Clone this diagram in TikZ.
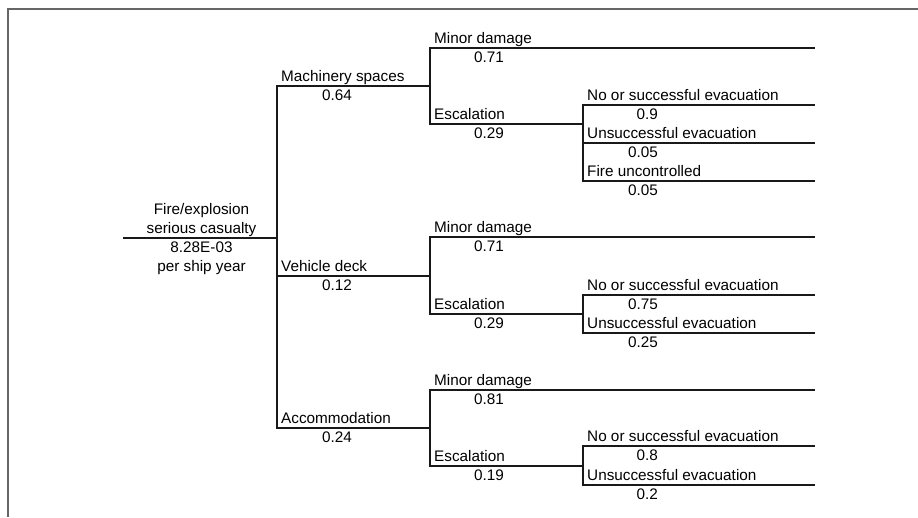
\documentclass[tikz,border=0pt]{standalone}
\usepackage{fontspec}
\setmainfont{Liberation Sans}
\begin{document}
\begin{tikzpicture}[x=1pt,y=-1pt,
  tree/.style={line width=2pt, draw=black!90, line cap=rect},
  frameline/.style={line width=2pt, draw=black!60},
  lab/.style={anchor=base west, inner sep=0pt, text=black},
  prob/.style={anchor=base east, inner sep=0pt, text=black},
  rootlab/.style={anchor=base, inner sep=0pt, text=black},
  every node/.append style={font=\fontsize{15.3}{18}\selectfont}]
\useasboundingbox (0,0) rectangle (918,517);
% frame
\coordinate (FL) at (7.5,517);
\coordinate (FC) at (7.5,8.5);
\coordinate (FR) at (918,8.5);
\draw[frameline] (FL) -- (FC) -- (FR);
% root
\coordinate (R0) at (124,238);
\coordinate (J0) at (277,238);
\draw[tree] (R0) -- (J0);
\node[rootlab] (rt1) at (201.5,214) {Fire/explosion};
\node[rootlab] (rt2) at (201.5,233) {serious casualty};
\node[rootlab] (rt3) at (201.5,252.5) {8.28E-03};
\node[rootlab] (rt4) at (201.5,271) {per ship year};
% level 1
\coordinate (MS) at (277,86);  \coordinate (MSe) at (430,86);
\coordinate (VD) at (277,276); \coordinate (VDe) at (430,276);
\coordinate (AC) at (277,428); \coordinate (ACe) at (430,428);
\draw[tree] (MS) -- (AC);
\draw[tree] (MS) -- (MSe);
\draw[tree] (VD) -- (VDe);
\draw[tree] (AC) -- (ACe);
\node[lab] (msl) at (281,81.5) {Machinery spaces};
\node[prob] (msp) at (352,100.5) {0.64};
\node[lab] (vdl) at (281,271.5) {Vehicle deck};
\node[prob] (vdp) at (352,290.5) {0.12};
\node[lab] (acl) at (281,423.5) {Accommodation};
\node[prob] (acp) at (352,442.5) {0.24};
% level 2 - machinery
\coordinate (M1) at (430,48);  \coordinate (M1e) at (814,48);
\coordinate (M2) at (430,124); \coordinate (M2e) at (583,124);
\draw[tree] (M1) -- (M2);
\draw[tree] (M1) -- (M1e);
\draw[tree] (M2) -- (M2e);
\node[lab] at (434,43.5) {Minor damage};
\node[prob] at (504,62.5) {0.71};
\node[lab] at (434,119.5) {Escalation};
\node[prob] at (504,138.5) {0.29};
% level 2 - vehicle
\coordinate (V1) at (430,237);  \coordinate (V1e) at (814,237);
\coordinate (V2) at (430,314);  \coordinate (V2e) at (583,314);
\draw[tree] (V1) -- (V2);
\draw[tree] (V1) -- (V1e);
\draw[tree] (V2) -- (V2e);
\node[lab] at (434,232.5) {Minor damage};
\node[prob] at (504,251.5) {0.71};
\node[lab] at (434,309.5) {Escalation};
\node[prob] at (504,328.5) {0.29};
% level 2 - accommodation
\coordinate (A1) at (430,390);  \coordinate (A1e) at (814,390);
\coordinate (A2) at (430,466);  \coordinate (A2e) at (583,466);
\draw[tree] (A1) -- (A2);
\draw[tree] (A1) -- (A1e);
\draw[tree] (A2) -- (A2e);
\node[lab] at (434,385.5) {Minor damage};
\node[prob] at (504,404.5) {0.81};
\node[lab] at (434,461.5) {Escalation};
\node[prob] at (504,480.5) {0.19};
% level 3 - machinery escalation
\coordinate (ME1) at (583,105); \coordinate (ME1e) at (814,105);
\coordinate (ME2) at (583,143); \coordinate (ME2e) at (814,143);
\coordinate (ME3) at (583,181); \coordinate (ME3e) at (814,181);
\draw[tree] (ME1) -- (ME3);
\draw[tree] (ME1) -- (ME1e);
\draw[tree] (ME2) -- (ME2e);
\draw[tree] (ME3) -- (ME3e);
\node[lab] at (587,100.5) {No or successful evacuation};
\node[prob] at (658,119.5) {0.9};
\node[lab] at (587,138.5) {Unsuccessful evacuation};
\node[prob] at (658,157.5) {0.05};
\node[lab] at (587,176.5) {Fire uncontrolled};
\node[prob] at (658,195.5) {0.05};
% level 3 - vehicle escalation
\coordinate (VE1) at (583,295); \coordinate (VE1e) at (814,295);
\coordinate (VE2) at (583,333); \coordinate (VE2e) at (814,333);
\draw[tree] (VE1) -- (VE2);
\draw[tree] (VE1) -- (VE1e);
\draw[tree] (VE2) -- (VE2e);
\node[lab] at (587,290.5) {No or successful evacuation};
\node[prob] at (658,309.5) {0.75};
\node[lab] at (587,328.5) {Unsuccessful evacuation};
\node[prob] at (658,347.5) {0.25};
% level 3 - accommodation escalation
\coordinate (AE1) at (583,446); \coordinate (AE1e) at (814,446);
\coordinate (AE2) at (583,485); \coordinate (AE2e) at (814,485);
\draw[tree] (AE1) -- (AE2);
\draw[tree] (AE1) -- (AE1e);
\draw[tree] (AE2) -- (AE2e);
\node[lab] at (587,441.5) {No or successful evacuation};
\node[prob] at (658,460.5) {0.8};
\node[lab] at (587,480.5) {Unsuccessful evacuation};
\node[prob] at (658,499.5) {0.2};
\end{tikzpicture}
\end{document}
